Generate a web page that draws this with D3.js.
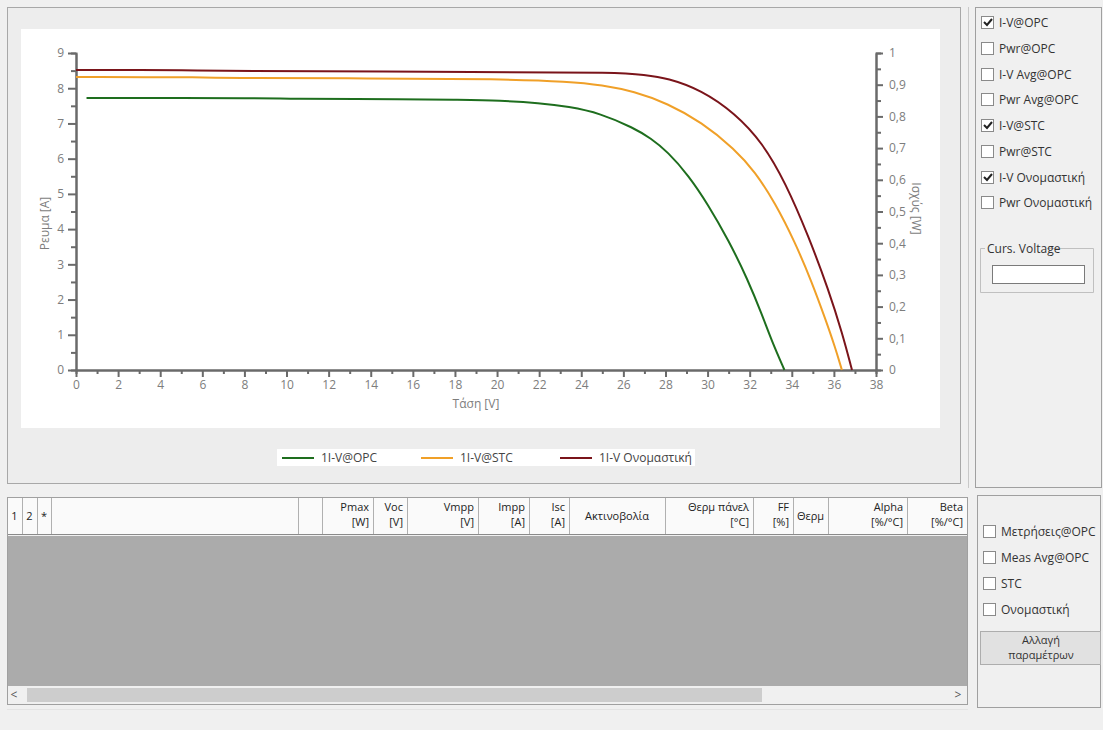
<!DOCTYPE html>
<meta charset="utf-8">
<script src="https://d3js.org/d3.v7.min.js"></script>
<style>
  body { margin: 0; background: #f0f0f0; }
  svg text { font-family: "Open Sans", "Noto Sans", sans-serif; }
</style>
<div id="my_dataviz"></div>
<script>

// I-V curves (voltage [V], current [A])
var vOpc = [0.5, 9.5, 9.6, 16, 18, 20.2, 22, 23.4, 24.9, 26.5, 27.3, 28.1, 29.1, 30.0, 31.0, 31.9, 32.6, 33.05, 33.65];
var iOpc = [7.72, 7.72, 7.70, 7.69, 7.67, 7.65, 7.58, 7.48, 7.29, 6.87, 6.58, 6.20, 5.52, 4.72, 3.68, 2.58, 1.55, 0.82, 0];

var vStc = [0, 6.6, 6.7, 14, 20.2, 23.4, 25, 26.5, 28.1, 29.7, 31.3, 32.25, 33.2, 34.15, 34.95, 35.6, 36.05, 36.38];
var iStc = [8.32, 8.31, 8.29, 8.28, 8.26, 8.19, 8.09, 7.91, 7.57, 7.04, 6.27, 5.63, 4.75, 3.63, 2.50, 1.44, 0.66, 0];

var vNom = [0, 6.0, 6.1, 20.2, 25.7, 27, 28.1, 29.7, 31.3, 32.6, 33.7, 34.8, 35.75, 36.4, 36.86];
var iNom = [8.52, 8.51, 8.49, 8.46, 8.45, 8.38, 8.29, 7.95, 7.29, 6.46, 5.32, 3.79, 2.27, 1.04, 0];

var seriesNames = ["1I-V@OPC", "1I-V@STC", "1I-V Ονομαστική"];

var xTicks = d3.range(0, 39, 2);
var yTicks = d3.range(0, 10, 1);
var pTicks = d3.range(0, 1.01, 0.1);

var topChecks = ["I-V@OPC", "Pwr@OPC", "I-V Avg@OPC", "Pwr Avg@OPC", "I-V@STC", "Pwr@STC", "I-V Ονομαστική", "Pwr Ονομαστική"];
var topChecked = [true, false, false, false, true, false, true, false];
var bottomChecks = ["Μετρήσεις@OPC", "Meas Avg@OPC", "STC", "Ονομαστική"];

var colHead1 = ["1", "2", "*", "", "", "Pmax", "Voc", "Vmpp", "Impp", "Isc", "Ακτινοβολία", "Θερμ πάνελ", "FF", "Θερμ", "Alpha", "Beta"];
var colHead2 = ["", "", "", "", "", "[W]", "[V]", "[V]", "[A]", "[A]", "", "[°C]", "[%]", "", "[%/°C]", "[%/°C]"];

// layout
var colEdges = [7, 22, 37, 51, 298, 322, 373, 407, 478, 529, 569, 665, 753, 793, 828, 907, 967];
var colAlign = ["c", "c", "c", "c", "c", "r", "r", "r", "r", "r", "c", "r", "r", "c", "r", "r"];
var colors = ["#1e6e1e", "#f0a028", "#7a141a"];

var svg = d3.select("#my_dataviz")
  .append("svg")
    .attr("width", 1103)
    .attr("height", 730);

// ---------- window panels ----------
svg.append("rect").attr("x", 7.5).attr("y", 7.5).attr("width", 953).attr("height", 476)
  .attr("fill", "#ededed").attr("stroke", "#a8a8a8");
svg.append("rect").attr("x", 21).attr("y", 29).attr("width", 919).attr("height", 399)
  .attr("fill", "#fff");

svg.append("line").attr("x1", 968.5).attr("x2", 968.5).attr("y1", 7).attr("y2", 488).attr("stroke", "#c8c8c8");
svg.append("rect").attr("x", 975.5).attr("y", 7.5).attr("width", 126).attr("height", 480)
  .attr("fill", "none").attr("stroke", "#a0a0a0");
svg.append("rect").attr("x", 977.5).attr("y", 495.5).attr("width", 123).attr("height", 212)
  .attr("fill", "none").attr("stroke", "#a0a0a0");

// ---------- chart ----------
var margin = {left: 76, top: 53},
    width = 800,
    height = 317;

var g = svg.append("g")
  .attr("transform", "translate(" + margin.left + "," + margin.top + ")");

var x = d3.scaleLinear().domain([0, 38]).range([0, width]);
var y = d3.scaleLinear().domain([0, 9]).range([height, 0]);
var yP = d3.scaleLinear().domain([0, 1]).range([height, 0]);

var fmtComma = function(d) { return d === 0 ? "0" : (d === 1 ? "1" : d3.format(".1f")(d).replace(".", ",")); };

function styleAxis(sel) {
  sel.select(".domain").attr("stroke", "#6a6a6a").attr("stroke-width", 2);
  sel.selectAll(".tick line").attr("stroke", "#6a6a6a").attr("stroke-width", 2);
  sel.selectAll(".tick text").attr("fill", "#7d7d7d").attr("font-size", 12);
}

// minor ticks
g.append("g").attr("transform", "translate(0," + height + ")")
  .call(d3.axisBottom(x).tickValues(d3.range(1, 38, 2)).tickSize(4).tickFormat(""))
  .call(styleAxis);
g.append("g")
  .call(d3.axisLeft(y).tickValues(d3.range(0.5, 9, 1)).tickSize(5).tickFormat(""))
  .call(styleAxis);
g.append("g").attr("transform", "translate(" + width + ",0)")
  .call(d3.axisRight(yP).tickValues(d3.range(0.05, 1, 0.1)).tickSize(5).tickFormat(""))
  .call(styleAxis);

// major ticks
g.append("g").attr("transform", "translate(0," + height + ")")
  .call(d3.axisBottom(x).tickValues(xTicks).tickSize(7).tickPadding(3).tickSizeOuter(0))
  .call(styleAxis);
g.append("g")
  .call(d3.axisLeft(y).tickValues(yTicks).tickSize(8).tickPadding(4).tickSizeOuter(0))
  .call(styleAxis);
g.append("g").attr("transform", "translate(" + width + ",0)")
  .call(d3.axisRight(yP).tickValues(pTicks).tickSize(7).tickPadding(6).tickSizeOuter(0).tickFormat(fmtComma))
  .call(styleAxis);

// axis titles
g.append("text").attr("x", width / 2).attr("y", height + 38)
  .attr("text-anchor", "middle").attr("font-size", 12).attr("fill", "#7d7d7d").text("Τάση [V]");
g.append("text").attr("transform", "translate(-27," + (height / 2 + 12) + ") rotate(-90)")
  .attr("text-anchor", "middle").attr("font-size", 12).attr("fill", "#7d7d7d").text("Ρευμα [A]");
g.append("text").attr("transform", "translate(" + (width + 36) + "," + (height / 2 - 3) + ") rotate(90)")
  .attr("text-anchor", "middle").attr("font-size", 12).attr("fill", "#7d7d7d").text("Ισχύς [W]");

// curves
var allSeries = [[vOpc, iOpc], [vStc, iStc], [vNom, iNom]];
var line = d3.line()
  .x(function(d) { return x(d[0]); })
  .y(function(d) { return y(d[1]); })
  .curve(d3.curveBasis);

allSeries.forEach(function(s, k) {
  var pts = s[0].map(function(v, i) { return [v, s[1][i]]; });
  g.append("path").datum(pts)
    .attr("d", line)
    .attr("fill", "none")
    .attr("stroke", colors[k])
    .attr("stroke-width", 2);
});

// legend
svg.append("rect").attr("x", 277).attr("y", 449).attr("width", 418).attr("height", 17).attr("fill", "#fff");
var legX = [282, 421, 560];
seriesNames.forEach(function(name, k) {
  svg.append("line").attr("x1", legX[k]).attr("x2", legX[k] + 32)
    .attr("y1", 458).attr("y2", 458).attr("stroke", colors[k]).attr("stroke-width", 2);
  svg.append("text").attr("x", legX[k] + 39).attr("y", 462)
    .attr("font-size", 12).attr("fill", "#444").text(name);
});

// ---------- check boxes ----------
function checkbox(cx, cy, label, checked) {
  svg.append("rect").attr("x", cx + 0.5).attr("y", cy - 6.5).attr("width", 12).attr("height", 12)
    .attr("fill", "#fff").attr("stroke", "#8a8a8a");
  if (checked) {
    svg.append("path")
      .attr("d", "M" + (cx + 3) + "," + (cy - 1) + " l3,3 l5,-6")
      .attr("fill", "none").attr("stroke", "#222").attr("stroke-width", 2);
  }
  svg.append("text").attr("x", cx + 18).attr("y", cy + 4)
    .attr("font-size", 12).attr("fill", "#333").text(label);
}

var topY = [23, 49, 75, 100, 126, 152, 178, 203];
topChecks.forEach(function(t, i) { checkbox(981, topY[i], t, topChecked[i]); });

// Curs. Voltage group box
svg.append("path").attr("d", "M1047,248.5 H1093.5 V292.5 H980.5 V248.5 H985")
  .attr("fill", "none").attr("stroke", "#c0c0c0");
svg.append("text").attr("x", 987).attr("y", 253).attr("font-size", 12).attr("fill", "#333").text("Curs. Voltage");
svg.append("rect").attr("x", 992.5).attr("y", 265.5).attr("width", 92).attr("height", 18)
  .attr("fill", "#fff").attr("stroke", "#7a7a7a");

var botY = [532, 558, 584, 610];
bottomChecks.forEach(function(t, i) { checkbox(983, botY[i], t, false); });

// button
svg.append("rect").attr("x", 980.5).attr("y", 631.5).attr("width", 120).attr("height", 33)
  .attr("fill", "#e1e1e1").attr("stroke", "#adadad");
svg.append("text").attr("x", 1041).attr("y", 644).attr("text-anchor", "middle")
  .attr("font-size", 11).attr("fill", "#333").text("Αλλαγή");
svg.append("text").attr("x", 1041).attr("y", 659).attr("text-anchor", "middle")
  .attr("font-size", 11).attr("fill", "#333").text("παραμέτρων");

// ---------- table ----------
svg.append("rect").attr("x", 7.5).attr("y", 497.5).attr("width", 960).attr("height", 207)
  .attr("fill", "#f0f0f0").attr("stroke", "#a0a0a0");
svg.append("rect").attr("x", 8).attr("y", 498).attr("width", 959).attr("height", 36).attr("fill", "#fafafa");
svg.append("rect").attr("x", 8).attr("y", 536).attr("width", 959).attr("height", 150).attr("fill", "#ababab");
svg.append("line").attr("x1", 8).attr("x2", 967).attr("y1", 534.5).attr("y2", 534.5).attr("stroke", "#8a8a8a");

colHead1.forEach(function(h, i) {
  var l = colEdges[i], r = colEdges[i + 1];
  if (i > 0) {
    svg.append("line").attr("x1", l + 0.5).attr("x2", l + 0.5).attr("y1", 498).attr("y2", 534)
      .attr("stroke", "#b0b0b0");
  }
  var tx = colAlign[i] === "r" ? r - 4 : (l + r) / 2;
  var anchor = colAlign[i] === "r" ? "end" : "middle";
  if (colHead2[i] === "") {
    svg.append("text").attr("x", tx).attr("y", 520).attr("text-anchor", anchor)
      .attr("font-size", 11).attr("fill", "#222").text(h);
  } else {
    svg.append("text").attr("x", tx).attr("y", 511).attr("text-anchor", anchor)
      .attr("font-size", 11).attr("fill", "#222").text(h);
    svg.append("text").attr("x", tx).attr("y", 526).attr("text-anchor", anchor)
      .attr("font-size", 11).attr("fill", "#222").text(colHead2[i]);
  }
});

// scrollbar
svg.append("rect").attr("x", 8).attr("y", 686).attr("width", 959).attr("height", 18).attr("fill", "#f0f0f0");
svg.append("rect").attr("x", 27).attr("y", 688).attr("width", 735).attr("height", 14).attr("fill", "#cdcdcd");
svg.append("text").attr("x", 14).attr("y", 699).attr("text-anchor", "middle")
  .attr("font-size", 12).attr("fill", "#555").text("<");
svg.append("text").attr("x", 958).attr("y", 699).attr("text-anchor", "middle")
  .attr("font-size", 12).attr("fill", "#555").text(">");

// status strip
svg.append("line").attr("x1", 7).attr("x2", 968).attr("y1", 709.5).attr("y2", 709.5).attr("stroke", "#e4e4e4");

</script>
